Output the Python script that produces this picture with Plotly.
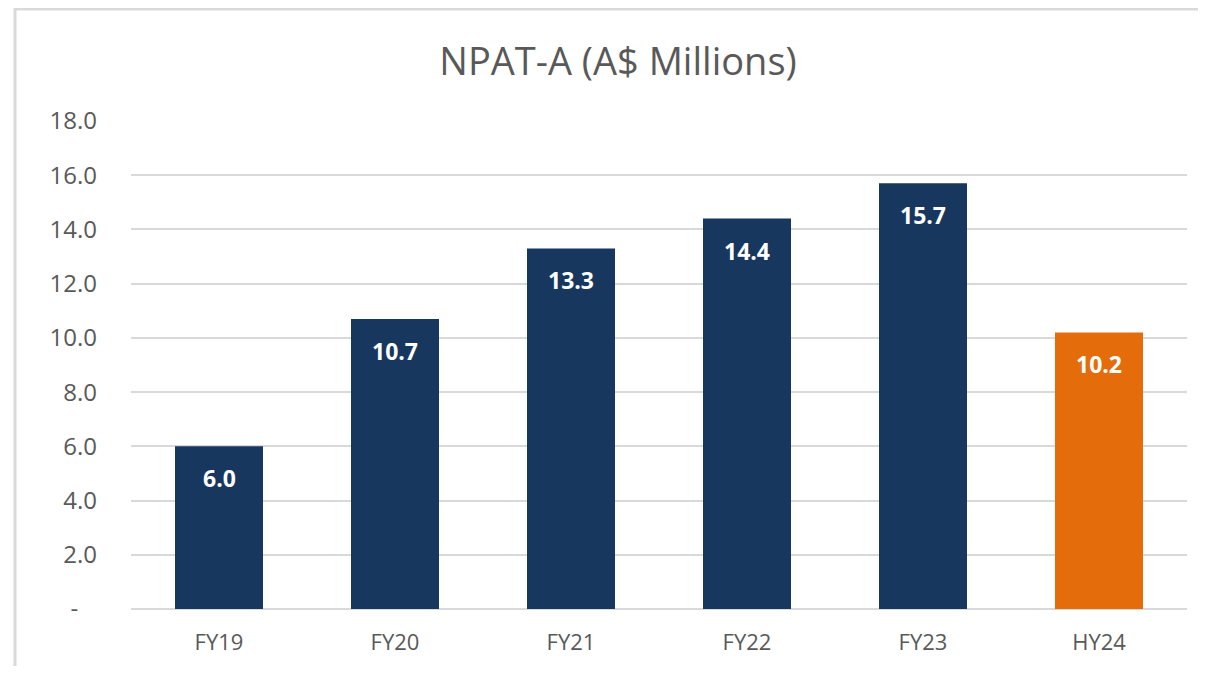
import plotly.graph_objects as go

categories = ["FY19", "FY20", "FY21", "FY22", "FY23", "HY24"]
values = [6.0, 10.7, 13.3, 14.4, 15.7, 10.2]
bar_colors = ["#17375E", "#17375E", "#17375E", "#17375E", "#17375E", "#E46C0A"]
tick_vals = [0, 2, 4, 6, 8, 10, 12, 14, 16, 18]
tick_text = ["-\u00a0\u00a0\u00a0", "2.0", "4.0", "6.0", "8.0", "10.0", "12.0", "14.0", "16.0", "18.0"]
title = "NPAT-A (A$ Millions)"

# page body has an 8px margin; keep figure inside the window to avoid scrollbars
OFF = 8
W, H = 1206 - 2 * OFF, 674 - 2 * OFF
L, T = 131 - OFF, 121 - OFF
R = W - (1187 - OFF)
B = H - (609 - OFF)
pw, ph = W - L - R, H - T - B

fig = go.Figure()
fig.add_trace(go.Bar(x=categories, y=values, marker=dict(color=bar_colors, line=dict(width=0)),
                     hoverinfo="skip"))

for c, v in zip(categories, values):
    fig.add_annotation(x=c, y=v, text=f"<b>{v:.1f}</b>", showarrow=False,
                       yanchor="middle", yshift=-32,
                       font=dict(family="Open Sans", size=23, color="white"))

def px_to_paper_x(px):
    return (px - OFF - L) / pw

def px_to_paper_y(py):
    return (H - B - (py - OFF)) / ph

# chart frame: only the top and left edges are visible in the reference
fig.add_shape(type="line", xref="paper", yref="paper",
              x0=px_to_paper_x(14), x1=px_to_paper_x(1206),
              y0=px_to_paper_y(9), y1=px_to_paper_y(9),
              line=dict(color="#D9D9D9", width=3), layer="below")
fig.add_shape(type="line", xref="paper", yref="paper",
              x0=px_to_paper_x(15), x1=px_to_paper_x(15),
              y0=px_to_paper_y(8), y1=px_to_paper_y(674),
              line=dict(color="#D9D9D9", width=3), layer="below")

fig.update_layout(
    width=W, height=H,
    margin=dict(l=L, r=R, t=T, b=B),
    paper_bgcolor="white", plot_bgcolor="white",
    bargap=0.5, showlegend=False,
    title=dict(text=title, x=(618 - OFF) / W, xanchor="center", y=1 - (62 - OFF) / H, yanchor="middle",
               font=dict(family="Open Sans", size=38, color="#595959")),
    font=dict(family="Open Sans", color="#595959"),
    xaxis=dict(showgrid=False, showline=False, zeroline=False, ticks="",
               tickfont=dict(size=22, color="#595959"), ticklabelstandoff=18),
    yaxis=dict(range=[0, 18], tickvals=tick_vals, ticktext=tick_text,
               showgrid=True, gridcolor="#D9D9D9", gridwidth=1.5,
               zeroline=True, zerolinecolor="#D9D9D9", zerolinewidth=1.5,
               showline=False, ticks="",
               tickfont=dict(size=24, color="#595959"), ticklabelstandoff=33),
)

fig.write_html("out.html")
